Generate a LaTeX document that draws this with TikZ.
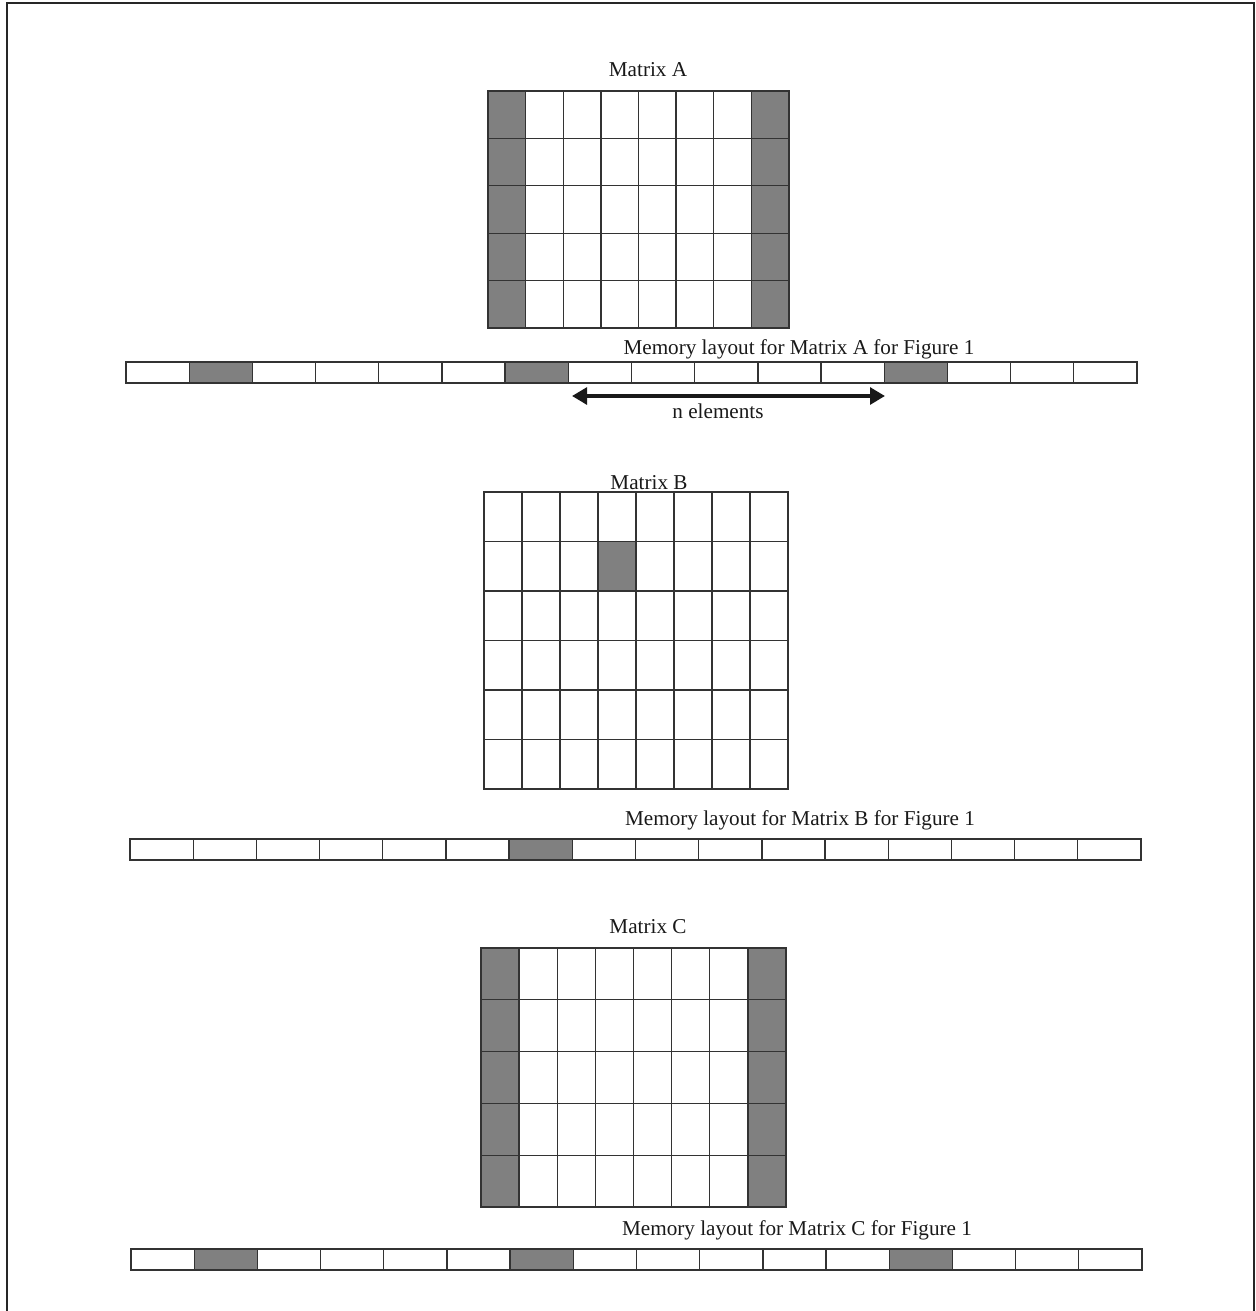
\documentclass[tikz,border=0pt]{standalone}
\usepackage{fontspec}
\setmainfont{Liberation Serif}
\usetikzlibrary{arrows.meta}
\tikzset{
  cell/.style={draw=black!80, line width=0.8pt, fill=white},
  dark/.style={draw=black!80, line width=0.8pt, fill=gray},
  lbl/.style={anchor=base, inner sep=0pt, font=\fontsize{12.7pt}{14pt}\selectfont, text=black!90},
  frame/.style={draw=black!85, line width=1.2pt},
  span/.style={{Triangle[length=9pt,width=10pt]}-{Triangle[length=9pt,width=10pt]}, line width=2.4pt, draw=black!90}
}
\begin{document}
\begin{tikzpicture}[x=0.6pt,y=-0.6pt]
\useasboundingbox (0,0) rectangle (1256,1311);
% frame
\draw[frame] (7,1320) -- (7,3) -- (1254,3) -- (1254,1320);

% ---------- Matrix A ----------
\node[lbl] (tA) at (648,76) {Matrix A};
\foreach \c in {0,...,7}{
  \foreach \r in {0,...,4}{
    \pgfmathsetmacro{\xa}{488+\c*37.625}
    \pgfmathsetmacro{\ya}{91+\r*47.4}
    \ifnum\c=0 \def\st{dark}\else\ifnum\c=7 \def\st{dark}\else\def\st{cell}\fi\fi
    \draw[\st] (\xa,\ya) rectangle ++(37.625,47.4);
  }
}
% memory A
\node[lbl] (mA) at (799,354) {Memory layout for Matrix A for Figure 1};
\foreach \i in {0,...,15}{
  \pgfmathsetmacro{\xa}{126+\i*63.1875}
  \ifnum\i=1 \def\st{dark}\else\ifnum\i=6 \def\st{dark}\else\ifnum\i=12 \def\st{dark}\else\def\st{cell}\fi\fi\fi
  \draw[\st] (\xa,362) rectangle ++(63.1875,21);
}
\coordinate (aL) at (572,396);
\coordinate (aR) at (885,396);
\draw[span] (aL) -- (aR);
\node[lbl] (nel) at (718,418) {n elements};

% ---------- Matrix B ----------
\foreach \c in {0,...,7}{
  \foreach \r in {0,...,5}{
    \pgfmathsetmacro{\xa}{484+\c*38}
    \pgfmathsetmacro{\ya}{492+\r*49.5}
    \def\st{cell}
    \ifnum\c=3 \ifnum\r=1 \def\st{dark}\fi\fi
    \draw[\st] (\xa,\ya) rectangle ++(38,49.5);
  }
}
\node[lbl] (tB) at (649,489) {Matrix B};
% memory B
\node[lbl] (mB) at (800,825) {Memory layout for Matrix B for Figure 1};
\foreach \i in {0,...,15}{
  \pgfmathsetmacro{\xa}{130+\i*63.1875}
  \ifnum\i=6 \def\st{dark}\else\def\st{cell}\fi
  \draw[\st] (\xa,839) rectangle ++(63.1875,21);
}

% ---------- Matrix C ----------
\node[lbl] (tC) at (648,933) {Matrix C};
\foreach \c in {0,...,7}{
  \foreach \r in {0,...,4}{
    \pgfmathsetmacro{\xa}{481+\c*38.125}
    \pgfmathsetmacro{\ya}{948+\r*51.8}
    \ifnum\c=0 \def\st{dark}\else\ifnum\c=7 \def\st{dark}\else\def\st{cell}\fi\fi
    \draw[\st] (\xa,\ya) rectangle ++(38.125,51.8);
  }
}
% memory C
\node[lbl] (mC) at (797,1235) {Memory layout for Matrix C for Figure 1};
\foreach \i in {0,...,15}{
  \pgfmathsetmacro{\xa}{131+\i*63.1875}
  \ifnum\i=1 \def\st{dark}\else\ifnum\i=6 \def\st{dark}\else\ifnum\i=12 \def\st{dark}\else\def\st{cell}\fi\fi\fi
  \draw[\st] (\xa,1249) rectangle ++(63.1875,21);
}
\end{tikzpicture}
\end{document}
